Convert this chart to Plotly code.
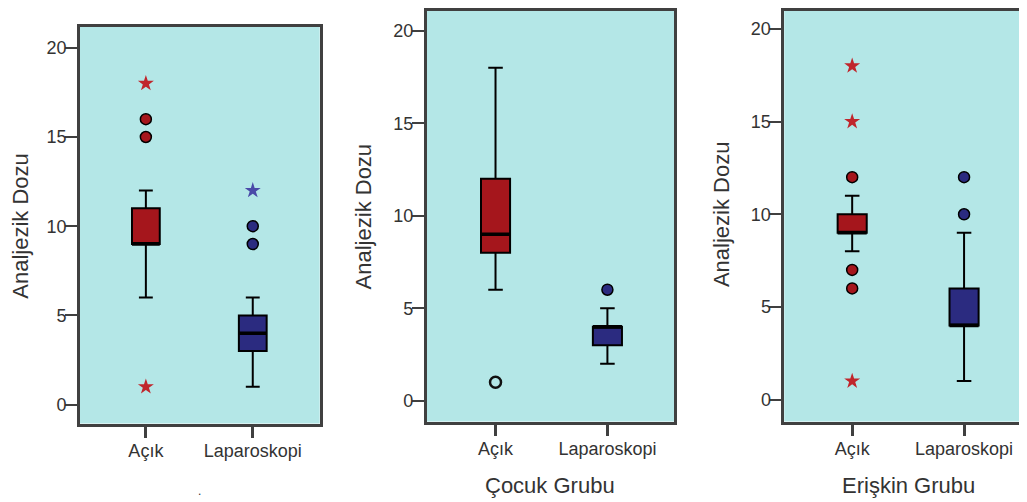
import plotly.graph_objects as go

# ---------------- data ----------------
groups = ["Açık", "Laparoskopi"]
panel_titles = [".", "Çocuk Grubu", "Erişkin Grubu"]
y_title = "Analjezik Dozu"
y_ticks = [0, 5, 10, 15, 20]

# box statistics per panel: [Açık, Laparoskopi]
q1 = [[9, 3], [8, 3], [9, 4]]
median = [[9, 4], [9, 4], [9, 4]]
q3 = [[11, 5], [12, 4], [10, 6]]
lower_whisker = [[6, 1], [6, 2], [8, 1]]
upper_whisker = [[12, 6], [18, 5], [11, 9]]

# outliers (circles), extreme values (stars), open-circle outliers
outliers = [
    [[15, 16], [9, 10]],
    [[], [6]],
    [[12, 7, 6], [10, 12]],
]
extremes = [
    [[18, 1], [12]],
    [[], []],
    [[18, 15, 1], []],
]
open_outliers = [
    [[], []],
    [[1], []],
    [[], []],
]

# ---------------- style / layout ----------------
W, H = 1027, 502
OFF = 8  # page body margin offset
fill_colors = ["#A5161C", "#2B2B80"]
star_colors = ["#C0262C", "#4A4AA8"]
bg = "#B4E7E7"
axis_col = "#404040"
font_family = "Liberation Sans, Arial, sans-serif"
text_col = "#333333"


def px_x(x):
    return (x - OFF) / W


def px_y(y):
    return 1 - (y - OFF) / H


# plot areas in screen pixels (left, right, top, bottom)
areas = [(80, 320, 24, 423), (427, 675, 8, 421), (785, 1033, 8, 421)]
# screen pixel calibration: (y of value 0, y of value 20), (x of cat 0, x of cat 1)
y_cal = [(404, 45), (400, 28), (399, 26)]
x_cal = [(146, 253), (496, 608), (853, 965)]

fig = go.Figure()

for p in range(3):
    sfx = "" if p == 0 else str(p + 1)
    xa, ya = "x" + sfx, "y" + sfx
    for g in range(2):
        fig.add_trace(go.Box(
            x=[groups[g]], q1=[q1[p][g]], median=[median[p][g]], q3=[q3[p][g]],
            lowerfence=[lower_whisker[p][g]], upperfence=[upper_whisker[p][g]],
            fillcolor=fill_colors[g], line=dict(color="black", width=2),
            whiskerwidth=0.5, width=0.26, boxpoints=False,
            xaxis=xa, yaxis=ya, showlegend=False, hoverinfo="skip",
        ))
        # thick median line (degenerate box at the median)
        fig.add_trace(go.Box(
            x=[groups[g]], q1=[median[p][g]], median=[median[p][g]], q3=[median[p][g]],
            lowerfence=[median[p][g]], upperfence=[median[p][g]],
            fillcolor="rgba(0,0,0,0)", line=dict(color="black", width=3.5),
            whiskerwidth=0, width=0.26, boxpoints=False,
            xaxis=xa, yaxis=ya, showlegend=False, hoverinfo="skip",
        ))
        if outliers[p][g]:
            fig.add_trace(go.Scatter(
                x=[groups[g]] * len(outliers[p][g]), y=outliers[p][g], mode="markers",
                marker=dict(symbol="circle", size=11, color=fill_colors[g],
                            line=dict(color="black", width=1.5)),
                xaxis=xa, yaxis=ya, showlegend=False, hoverinfo="skip",
            ))
        if extremes[p][g]:
            fig.add_trace(go.Scatter(
                x=[groups[g]] * len(extremes[p][g]), y=extremes[p][g], mode="markers",
                marker=dict(symbol="star", size=12, color=star_colors[g],
                            line=dict(width=0)),
                xaxis=xa, yaxis=ya, showlegend=False, hoverinfo="skip",
            ))
        if open_outliers[p][g]:
            fig.add_trace(go.Scatter(
                x=[groups[g]] * len(open_outliers[p][g]), y=open_outliers[p][g], mode="markers",
                marker=dict(symbol="circle", size=11, color="rgba(0,0,0,0)",
                            line=dict(color="#111111", width=2.5)),
                xaxis=xa, yaxis=ya, showlegend=False, hoverinfo="skip",
            ))

layout = dict(
    width=W, height=H, margin=dict(l=0, r=0, t=0, b=0),
    paper_bgcolor="white", plot_bgcolor=bg,
    font=dict(family=font_family, size=18, color=text_col),
    showlegend=False, boxmode="overlay",
)

for p in range(3):
    sfx = "" if p == 0 else str(p + 1)
    l, r, t, b = areas[p]
    y0p, y20p = y_cal[p]
    upv = (y0p - y20p) / 20.0
    yr = [-(b - y0p) / upv, 20 + (y20p - t) / upv]
    c0, c1 = x_cal[p]
    upc = float(c1 - c0)
    xr = [-(c0 - l) / upc, 1 + (r - c1) / upc]
    layout["xaxis" + sfx] = dict(
        domain=[px_x(l), min(px_x(r), 1.0)], range=xr, type="category",
        categoryorder="array", categoryarray=groups,
        anchor="y" + sfx, showgrid=False, zeroline=False,
        showline=True, mirror=True, linecolor=axis_col, linewidth=2.5,
        ticks="outside", ticklen=12, tickwidth=2.5, tickcolor=axis_col,
        ticklabelstandoff=-3,
        tickfont=dict(size=18, color=text_col),
    )
    layout["yaxis" + sfx] = dict(
        domain=[px_y(b), min(px_y(t), 1.0)], range=yr,
        anchor="x" + sfx, showgrid=False, zeroline=False,
        showline=True, mirror=True, linecolor=axis_col, linewidth=2.5,
        ticks="outside", ticklen=12, tickwidth=1.5, tickcolor=axis_col,
        ticklabelstandoff=-5,
        tickvals=y_ticks, tickfont=dict(size=18, color=text_col),
    )

annotations = []
ytitle_pos = [(21, 224), (364, 215), (722, 212)]
for p in range(3):
    x0, y0 = ytitle_pos[p]
    annotations.append(dict(
        text=y_title, x=px_x(x0), y=px_y(y0), xref="paper", yref="paper",
        textangle=-90, showarrow=False, xanchor="center", yanchor="middle",
        borderpad=0, font=dict(size=22, color=text_col),
    ))

xtitle_pos = [(200, 491), (551, 485), (909, 485)]
for p in range(3):
    x0, y0 = xtitle_pos[p]
    annotations.append(dict(
        text=panel_titles[p], x=px_x(x0), y=px_y(y0), xref="paper", yref="paper",
        showarrow=False, xanchor="center", yanchor="middle",
        font=dict(size=22 if p else 12, color=text_col),
    ))

layout["annotations"] = annotations
fig.update_layout(**layout)
fig.write_html("out.html")
